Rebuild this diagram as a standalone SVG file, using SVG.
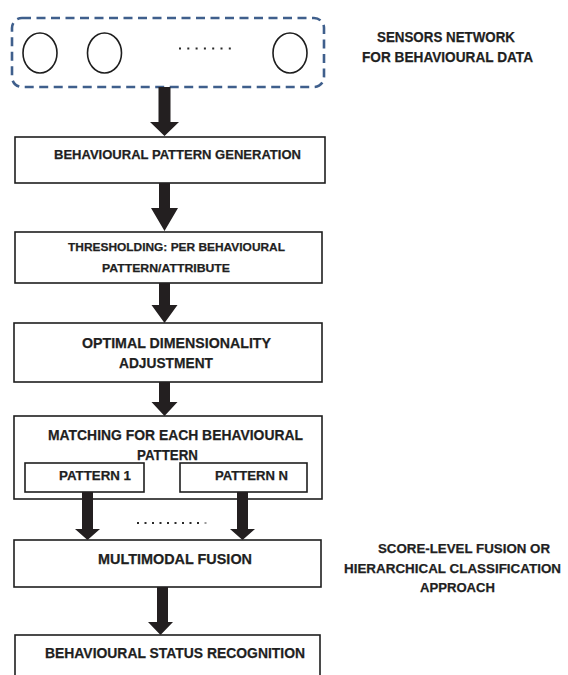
<svg xmlns="http://www.w3.org/2000/svg" width="568" height="675" viewBox="0 0 568 675">
<style>
.box{fill:#ffffff;stroke:#1e1e1e;stroke-width:1.6}
.t{font-family:"Liberation Sans",Arial,sans-serif;font-weight:bold;fill:#1f1f1f;stroke:#1f1f1f;stroke-width:0.25}
.arrow{fill:#231f20}
.sensor{fill:none;stroke:#1e1e1e;stroke-width:1.6}
.dot{fill:#2a2a2a}
</style>
<rect x="0" y="0" width="568" height="675" fill="#ffffff"/>
<g id="sensors">
<rect x="12" y="18" width="312" height="69" rx="10" ry="10" fill="none" stroke="#3f5f8c" stroke-width="2.6" stroke-dasharray="9 5.5"/>
<ellipse class="sensor" cx="40" cy="53" rx="17" ry="20"/>
<ellipse class="sensor" cx="104.5" cy="53" rx="17" ry="20"/>
<ellipse class="sensor" cx="290" cy="53" rx="17" ry="20"/>
<g class="dot">
<rect x="179" y="47.5" width="2" height="2"/><rect x="187.3" y="47.5" width="2" height="2"/><rect x="195.6" y="47.5" width="2" height="2"/><rect x="203.9" y="47.5" width="2" height="2"/><rect x="212.2" y="47.5" width="2" height="2"/><rect x="220.5" y="47.5" width="2" height="2"/><rect x="228.8" y="47.5" width="2" height="2"/>
</g>
</g>
<g id="sensors-label">
<text class="t" x="377" y="42" font-size="14.6" textLength="138" lengthAdjust="spacingAndGlyphs">SENSORS NETWORK</text>
<text class="t" x="362" y="62" font-size="14.6" textLength="171" lengthAdjust="spacingAndGlyphs">FOR BEHAVIOURAL DATA</text>
</g>
<g id="pattern-generation">
<rect class="box" x="15" y="137" width="310" height="46"/>
<text class="t" x="54" y="159" font-size="13.6" textLength="247" lengthAdjust="spacingAndGlyphs">BEHAVIOURAL PATTERN GENERATION</text>
</g>
<g id="thresholding">
<rect class="box" x="15" y="232" width="307" height="51"/>
<text class="t" x="68" y="251" font-size="11.8" textLength="217" lengthAdjust="spacingAndGlyphs">THRESHOLDING: PER  BEHAVIOURAL</text>
<text class="t" x="102" y="272" font-size="11.8" textLength="128" lengthAdjust="spacingAndGlyphs">PATTERN/ATTRIBUTE</text>
</g>
<g id="dimensionality">
<rect class="box" x="14" y="323" width="308" height="59"/>
<text class="t" x="82" y="348" font-size="15.2" textLength="189" lengthAdjust="spacingAndGlyphs">OPTIMAL DIMENSIONALITY</text>
<text class="t" x="119" y="368" font-size="15.2" textLength="94" lengthAdjust="spacingAndGlyphs">ADJUSTMENT</text>
</g>
<g id="matching">
<rect class="box" x="14" y="416" width="308" height="83"/>
<text class="t" x="48" y="440" font-size="15.2" textLength="255" lengthAdjust="spacingAndGlyphs">MATCHING FOR EACH BEHAVIOURAL</text>
<text class="t" x="137" y="460" font-size="15.2" textLength="61" lengthAdjust="spacingAndGlyphs">PATTERN</text>
</g>
<g id="pattern-1">
<rect class="box" x="25" y="463" width="119" height="29"/>
<text class="t" x="59" y="480" font-size="13" textLength="72" lengthAdjust="spacingAndGlyphs">PATTERN 1</text>
</g>
<g id="pattern-n">
<rect class="box" x="180" y="463" width="127" height="29"/>
<text class="t" x="215" y="480" font-size="13" textLength="73" lengthAdjust="spacingAndGlyphs">PATTERN N</text>
</g>
<g id="multimodal-fusion">
<rect class="box" x="14" y="540" width="307" height="47"/>
<text class="t" x="98" y="564" font-size="14.8" textLength="154" lengthAdjust="spacingAndGlyphs">MULTIMODAL FUSION</text>
</g>
<g id="fusion-label">
<text class="t" x="378" y="553" font-size="13.3" textLength="172" lengthAdjust="spacingAndGlyphs">SCORE-LEVEL FUSION OR</text>
<text class="t" x="344" y="573" font-size="13.3" textLength="217" lengthAdjust="spacingAndGlyphs">HIERARCHICAL CLASSIFICATION</text>
<text class="t" x="420" y="592" font-size="13.3" textLength="75" lengthAdjust="spacingAndGlyphs">APPROACH</text>
</g>
<g id="status-recognition">
<rect class="box" x="15" y="635" width="305" height="50"/>
<text class="t" x="45" y="658" font-size="14.8" textLength="260" lengthAdjust="spacingAndGlyphs">BEHAVIOURAL STATUS RECOGNITION</text>
</g>
<g id="connectors">
<polygon class="arrow" points="158.5,87 170.5,87 170.5,122 179,122 164.5,136 150,122 158.5,122"/>
<polygon class="arrow" points="159,183 170,183 170,208 178,208 164.5,231 151,208 159,208"/>
<polygon class="arrow" points="159,283 170,283 170,305 177.5,305 164.5,323 151.5,305 159,305"/>
<polygon class="arrow" points="159,382 170,382 170,402 177.5,402 164.5,416 151.5,402 159,402"/>
<polygon class="arrow" points="82,492 93,492 93,529 100,529 87.5,540 75,529 82,529"/>
<polygon class="arrow" points="237,492 248,492 248,529 255,529 242.5,540 230,529 237,529"/>
<polygon class="arrow" points="157,587 168,587 168,622 173,622 160.5,635 148,622 157,622"/>
<g class="dot">
<rect x="137" y="522" width="2" height="2"/><rect x="144.5" y="522" width="2" height="2"/><rect x="152" y="522" width="2" height="2"/><rect x="159.5" y="522" width="2" height="2"/><rect x="167" y="522" width="2" height="2"/><rect x="174.5" y="522" width="2" height="2"/><rect x="182" y="522" width="2" height="2"/><rect x="189.5" y="522" width="2" height="2"/><rect x="197" y="522" width="2" height="2"/><rect x="204.5" y="522" width="2" height="2" fill="#9a9a9a"/>
</g>
</g>
</svg>
